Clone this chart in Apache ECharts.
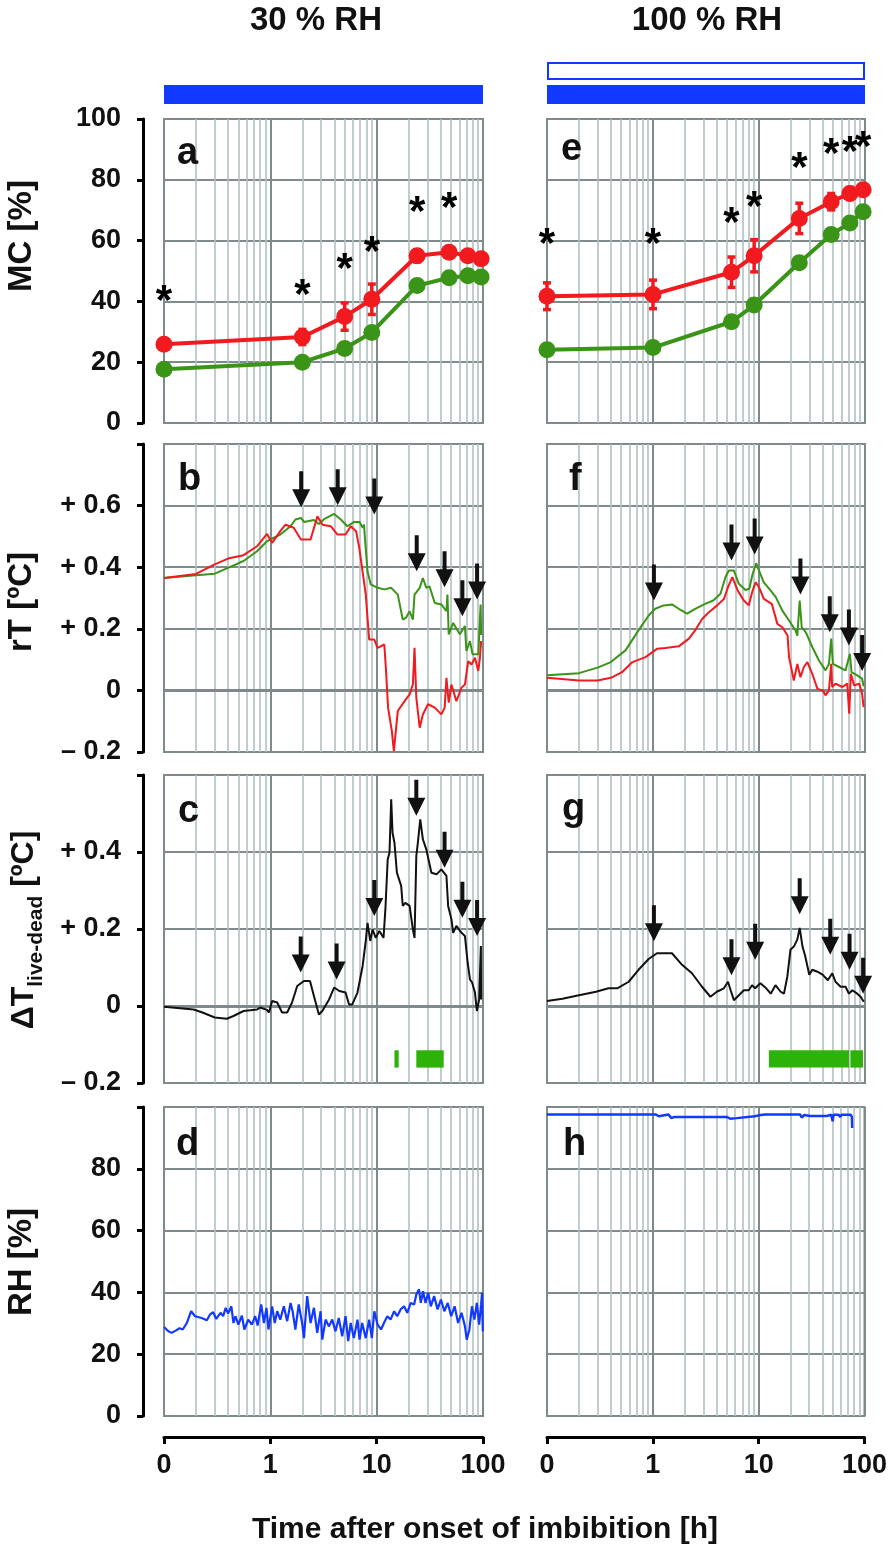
<!DOCTYPE html>
<html><head><meta charset="utf-8">
<script src="https://cdn.jsdelivr.net/npm/echarts@6/dist/echarts.min.js"></script>
<style>html,body{margin:0;padding:0;background:#fff}#c{width:890px;height:1553px}</style>
</head><body><div id="c"></div>
<script>
// ---------------- DATA ----------------
const T0 = 0.1; // time "0" is drawn at the left end of the log axis
const xTickLabels = ['0', '1', '10', '100'];
const minorGridTimes = [0.2,0.3,0.4,0.5,0.6,0.7,0.8,0.9,2,3,4,5,6,7,8,9,20,30,40,50,60,70,80,90];

// panel a (30 % RH) moisture content
const tA = [0, 2, 5, 9, 24, 48, 72, 96];
const mcRedA = [25.9, 28.3, 35, 40.7, 55, 56.2, 55, 54];
const mcRedErrA = [1.5, 2.5, 4.5, 5, 2, 1.5, 1.5, 1.5];
const mcGreenA = [17.7, 20, 24.5, 29.8, 45.2, 47.8, 48.4, 48];
const starA = [42.9, 45, 53.4, 59, 72.3, 73.6, null, null];

// panel e (100 % RH) moisture content
const tE = [0, 1, 5.5, 9, 24, 48, 72, 96];
const mcRedE = [41.7, 42.3, 49.6, 55, 67.3, 72.8, 75.5, 76.7];
const mcRedErrE = [4.4, 4.7, 5, 5.3, 5, 2.7, 2, 1.5];
const mcGreenE = [24.1, 24.8, 33.3, 38.8, 52.7, 62, 65.8, 69.5];
const starE = [61.7, 61.7, 68.5, 74, 86.6, 91.4, 92, 93.6];

// panel b (30 % RH) rT [time h, °C]
const rtGreenB = [[0.1,.365],[0.2,.374],[0.3,.379],[0.4,.398],[0.56,.42],[0.75,.452],[0.93,.484],[1,.49],[1.24,.506],[1.55,.533],[1.72,.555],[1.94,.56],[2.07,.547],[2.57,.553],[2.86,.54],[3.2,.556],[3.98,.573],[4.6,.555],[5.3,.533],[6.15,.547],[6.9,.547],[7.4,.528],[7.6,.538],[7.8,.484],[8.2,.387],[8.8,.344],[10.2,.333],[11.8,.328],[13.7,.333],[15.8,.311],[17.6,.23],[18.9,.236],[20.4,.257],[21.9,.23],[22.7,.311],[25.4,.333],[27.2,.365],[29.3,.333],[31.4,.338],[35.2,.284],[40.6,.279],[45.3,.257],[46.3,.311],[47.6,.182],[52.4,.219],[60.5,.182],[67.6,.209],[69.8,.128],[75.4,.16],[79.8,.117],[90.3,.117],[95,.279],[96,.18]];
const rtRedB = [[0.1,.365],[0.2,.378],[0.3,.409],[0.4,.428],[0.56,.439],[0.75,.468],[0.93,.508],[1.04,.479],[1.24,.517],[1.39,.538],[1.66,.528],[1.94,.49],[2.39,.49],[2.77,.565],[3.1,.538],[3.7,.533],[4.28,.506],[5.1,.506],[5.7,.533],[6.4,.517],[6.86,.463],[7.9,.311],[8.5,.165],[9.5,.165],[10.2,.138],[11.8,.149],[12.2,.074],[12.8,-.056],[13.9,-.132],[14.5,-.197],[15.8,-.067],[18.3,-.035],[20.4,-.013],[21.9,.019],[22.7,.138],[23.6,-.024],[25.4,-.121],[27.2,-.078],[30.4,-.045],[35.2,-.056],[40.6,-.078],[43.6,-.056],[45.3,.041],[47.6,-.04],[50.5,.019],[56.2,-.035],[62.8,.009],[67.6,.019],[72.6,.095],[78,.084],[84,.106],[90.3,.063],[93.6,.106],[96,.16]];
const arrowB = [[1.95,.595],[4.3,.601],[9.5,.571],[23.8,.387],[43.5,.335],[64,.241],[88,.295]];

// panel f (100 % RH) rT
const rtGreenF = [[0.1,.049],[0.2,.056],[0.3,.074],[0.4,.092],[0.55,.13],[0.73,.195],[0.91,.243],[1.05,.265],[1.26,.276],[1.51,.279],[1.75,.265],[2.1,.249],[2.5,.265],[3.1,.281],[3.7,.292],[4.33,.314],[4.83,.368],[5.2,.389],[5.8,.389],[6.45,.346],[7.46,.326],[8.1,.33],[8.7,.378],[9.4,.413],[10,.389],[11.1,.351],[12.9,.324],[14.4,.303],[16.6,.259],[19.2,.227],[22.1,.195],[23,.178],[24.2,.292],[25.3,.205],[27.6,.189],[31.8,.141],[36.8,.097],[42.4,.065],[45.7,.086],[48,.168],[49.8,.086],[56.9,.076],[65.5,.065],[72,.119],[74.6,.059],[84.5,.049],[94,.038],[97,.013]];
const rtRedF = [[0.1,.041],[0.2,.032],[0.3,.032],[0.4,.041],[0.51,.059],[0.64,.092],[0.85,.108],[1.09,.135],[1.31,.138],[1.75,.143],[2.18,.168],[2.5,.195],[2.91,.232],[3.37,.254],[4.03,.276],[4.67,.297],[5.1,.335],[5.6,.368],[6.3,.324],[7.2,.292],[8,.276],[8.7,.324],[9.3,.351],[10,.335],[11.1,.297],[13.2,.281],[14.9,.216],[16.6,.205],[18.6,.178],[19.2,.108],[21.3,.032],[23,.086],[24.6,.043],[26.5,.076],[28.6,.092],[31.8,.054],[35.6,.005],[40,0],[42.4,-.016],[45.7,0],[48,.086],[49,.011],[52.7,.022],[61,.011],[68,.022],[71,-.076],[73.5,.054],[79,.016],[88,.022],[94,-.011],[97,-.054]];
const arrowF = [[1.02,.292],[5.5,.422],[9.1,.441],[24.6,.311],[46.5,.189],[70.5,.146],[94,.063]];

// panel c (30 % RH) ΔT live-dead
const dtC = [[0.1,-.002],[0.19,-.009],[0.23,-.017],[0.3,-.03],[0.39,-.033],[0.45,-.026],[0.56,-.013],[0.75,-.009],[0.8,-.004],[0.93,-.01],[0.97,-.017],[1.04,.013],[1.16,.009],[1.29,-.017],[1.44,-.017],[1.6,.009],[1.79,.052],[2.07,.065],[2.36,.065],[2.57,.026],[2.86,-.022],[3.08,-.013],[3.57,.017],[3.98,.048],[4.45,.039],[5.1,.035],[5.5,.004],[5.9,.004],[6.6,.035],[7.38,.104],[7.9,.169],[8.2,.216],[8.7,.169],[9.15,.199],[9.8,.177],[10.6,.195],[11.6,.177],[12.1,.255],[12.7,.381],[13.2,.398],[13.7,.537],[14.1,.45],[14.7,.424],[15.5,.346],[17,.312],[17.6,.26],[18.6,.268],[20.4,.26],[21.9,.199],[22.7,.177],[23.6,.39],[24.4,.424],[25.7,.485],[27.2,.433],[29.3,.407],[32.7,.346],[36.6,.342],[40.6,.355],[45.3,.338],[47,.26],[50.5,.225],[52.4,.19],[56.2,.208],[62.8,.19],[67.6,.182],[71.7,.113],[75.4,.069],[79,.061],[84,.035],[87.6,-.013],[92,.017],[95.5,.156],[96,.017]];
const arrowC = [[1.93,.087],[4.2,.069],[9.5,.234],[23.6,.494],[43.5,.359],[64,.229],[88,.182]];
const barsC = [[14.7,16.1],[23.6,42.7]];

// panel g (100 % RH) ΔT live-dead
const dtG = [[0.1,.013],[0.14,.019],[0.2,.028],[0.29,.037],[0.38,.046],[0.46,.046],[0.59,.063],[0.73,.094],[0.91,.122],[1.09,.137],[1.51,.137],[1.88,.107],[2.33,.085],[2.9,.05],[3.48,.024],[4,.037],[4.66,.046],[5.1,.063],[5.4,.041],[5.8,.015],[6.46,.028],[7.2,.041],[8,.041],[8.6,.054],[9.2,.046],[10.3,.059],[11.7,.046],[12.9,.032],[14.3,.054],[16,.037],[17.2,.032],[18.5,.076],[19.8,.146],[21.4,.155],[23,.173],[24.2,.203],[25.7,.155],[27.3,.129],[29.8,.081],[31.8,.094],[35.6,.089],[40,.081],[44.6,.067],[49.1,.085],[52.7,.063],[58.9,.05],[65.5,.05],[70.6,.032],[75.9,.041],[84.5,.032],[90.8,.024],[97.5,.011]];
const arrowG = [[1.02,.168],[5.5,.08],[9.2,.12],[24.2,.238],[47,.133],[71.5,.094],[96,.032]];
const barsG = [[12.4,70.6],[72.8,95.8]];
const barsY = [-0.16, -0.115];

// panel d (30 % RH) relative humidity
const rhD = [[0.1,28.8],[0.11,27.4],[0.118,26.9],[0.13,27.7],[0.14,28.4],[0.15,28],[0.164,30.1],[0.18,33.9],[0.196,32.3],[0.226,31.7],[0.253,31],[0.27,32.8],[0.29,33.6],[0.31,31.4],[0.34,33.4],[0.36,32.3],[0.38,35],[0.4,33.2],[0.43,35.5],[0.45,30.1],[0.47,32.3],[0.5,29.6],[0.54,32.5],[0.57,28],[0.62,31.2],[0.67,29.6],[0.72,32.3],[0.76,29.3],[0.82,36.1],[0.87,30.1],[0.92,35],[0.96,28],[1.04,35.5],[1.1,30.1],[1.16,33.9],[1.24,31.2],[1.34,35.5],[1.44,30.7],[1.55,36.6],[1.62,33.9],[1.72,28],[1.85,36.1],[1.99,30.1],[2.07,25.2],[2.22,38.8],[2.39,30.1],[2.57,35],[2.76,26.9],[2.97,33.9],[3.08,24.7],[3.31,31.2],[3.55,29],[3.82,31.2],[4.1,27.4],[4.4,31.7],[4.74,25.8],[5.1,32.3],[5.4,24.2],[5.7,30.1],[6.1,25.2],[6.6,31.2],[6.9,24.7],[7.3,30.1],[7.9,25.2],[8.5,31.2],[9,25.2],[9.5,33.9],[10.2,29.6],[11,28],[11.7,30.1],[12.6,32.3],[13.5,31.2],[14.6,33.9],[15.6,32.3],[16.8,34.5],[18.1,35.5],[19.4,33.4],[20.9,36.6],[22.5,36.1],[23.6,39.3],[25,41],[26,36.6],[27.3,40.4],[28.8,36.6],[30.5,39.9],[32.3,35.5],[34.7,38.8],[37.4,34.5],[40.2,37.7],[43.3,33.9],[46.6,36.6],[50.2,32.3],[54.1,35.5],[58.3,30.1],[62.8,33.4],[67.7,29],[70.3,24.7],[74.5,28],[78.7,35.5],[83,31.2],[87.5,36.6],[92,29.6],[96,36.1],[98,39.9],[99.5,27.4]];

// panel h (100 % RH) relative humidity
const rhH = [[0.1,97.6],[1.06,97.6],[1.14,97],[1.4,97.6],[1.5,96.4],[1.6,96.8],[5,96.8],[5.4,96.2],[6.2,96.4],[6.4,97],[9.2,97],[10,97.3],[11.5,97.6],[24.6,97.6],[25.5,96.6],[27,97.4],[30.7,97.1],[44,97.1],[45.7,97.5],[48.5,97.5],[50,95.4],[51,97.5],[57,97.5],[59,96.8],[61,97.5],[74,97.5],[76,96.8],[76.5,93.2]];

// ---------------- STYLE ----------------
const FF = "'Liberation Sans', Arial, Helvetica, sans-serif";
const GRID_DARK = '#7f8b8b', GRID_LIGHT = '#b2c0c0';
const RED = '#f11a1f', GREEN = '#3a9418', BLUE = '#1239ff', BAR_GREEN = '#2db20a', INK = '#111';
const COLS = [164, 547], COLW = [319, 318];
const ROWS = [[119,304],[444,308],[775,308],[1107,309]];
const Y = [
  {min:0, max:100, interval:20, top:null, signed:false},
  {min:-0.2, max:0.8, interval:0.2, top:0.8, signed:true},
  {min:-0.2, max:0.6, interval:0.2, top:0.6, signed:true},
  {min:0, max:100, interval:20, top:100, signed:false}
];
const t0 = t => (t === 0 ? T0 : t);

const grids = [], xAxes = [], yAxes = [], series = [];
for (let r = 0; r < 4; r++) for (let c = 0; c < 2; c++) {
  const i = r * 2 + c, yc = Y[r];
  grids.push({left: COLS[c], top: ROWS[r][0], width: COLW[c], height: ROWS[r][1], show: true,
    borderColor: GRID_DARK, borderWidth: 2, backgroundColor: 'transparent'});
  const bottom = r === 3;
  xAxes.push({type: 'log', logBase: 10, gridIndex: i, min: 0.1, max: 100, splitNumber: 3,
    offset: bottom ? 21 : 0,
    splitLine: {show: true, lineStyle: {color: GRID_DARK, width: 2}},
    axisLine: {show: bottom, onZero: false, lineStyle: {color: '#000', width: 3}},
    axisTick: {show: bottom, length: 7, lineStyle: {color: '#000', width: 3}},
    axisLabel: {show: bottom, margin: 15, fontSize: 27, fontWeight: 'bold', color: INK, fontFamily: FF,
      formatter: v => { const k = Math.round(Math.log10(v)) + 1; return xTickLabels[k] || ''; }}
  });
  yAxes.push({type: 'value', gridIndex: i, min: yc.min, max: yc.max, interval: yc.interval,
    offset: c === 0 ? 21 : 0,
    splitLine: {show: true, lineStyle: {color: GRID_DARK, width: 2}},
    axisLine: {show: c === 0, onZero: false, lineStyle: {color: '#000', width: 3}},
    axisTick: {show: c === 0, length: 6, lineStyle: {color: '#000', width: 3}},
    axisLabel: {show: c === 0, margin: 22, fontSize: 27, fontWeight: 'bold', color: INK, fontFamily: FF,
      formatter: v => {
        if (yc.top !== null && Math.abs(v - yc.top) < 1e-6) return '';
        if (!yc.signed) return String(Math.round(v));
        if (Math.abs(v) < 1e-9) return '0';
        return (v > 0 ? '+ ' : '\u2013 ') + Math.abs(v).toFixed(1);
      }}
  });
  // minor log grid lines (and zero line)
  const ml = minorGridTimes.map(v => ({xAxis: v}));
  if (yc.signed) ml.push({yAxis: 0, lineStyle: {color: GRID_DARK, width: 3}});
  series.push({type: 'line', xAxisIndex: i, yAxisIndex: i, data: [], silent: true, z: 0,
    markLine: {silent: true, symbol: ['none', 'none'], label: {show: false}, animation: false, z: 0,
      lineStyle: {color: GRID_LIGHT, width: 1.6, type: 'solid'}, data: ml}});
}

function lineS(i, data, color, w, z) {
  return {type: 'line', xAxisIndex: i, yAxisIndex: i, data, showSymbol: false, symbol: 'none',
    lineStyle: {color, width: w}, z: z || 3, silent: true};
}
function mcS(i, t, v, color) {
  return {type: 'line', xAxisIndex: i, yAxisIndex: i, data: t.map((x, k) => [t0(x), v[k]]),
    symbol: 'circle', symbolSize: 17, itemStyle: {color, opacity: 1}, lineStyle: {color, width: 4}, z: 4, silent: true};
}
function errS(i, t, v, e, color) {
  return {type: 'custom', xAxisIndex: i, yAxisIndex: i, z: 4, silent: true,
    data: t.map((x, k) => [t0(x), v[k], e[k]]),
    renderItem: (p, api) => {
      const x = api.value(0), y = api.value(1), e = api.value(2);
      const a = api.coord([x, y + e]), b = api.coord([x, y - e]);
      const st = {stroke: color, lineWidth: 3.5};
      return {type: 'group', children: [
        {type: 'line', shape: {x1: a[0], y1: a[1], x2: b[0], y2: b[1]}, style: st},
        {type: 'line', shape: {x1: a[0]-4, y1: a[1], x2: a[0]+4, y2: a[1]}, style: st},
        {type: 'line', shape: {x1: b[0]-4, y1: b[1], x2: b[0]+4, y2: b[1]}, style: st}
      ]};
    }};
}
function starS(i, t, v) {
  return {type: 'scatter', xAxisIndex: i, yAxisIndex: i, z: 8, silent: true, symbolSize: 2,
    itemStyle: {color: 'rgba(0,0,0,0)', opacity: 1},
    data: t.map((x, k) => [t0(x), v[k]]).filter(d => d[1] !== null),
    label: {show: true, position: 'inside', formatter: '*', fontSize: 42, fontWeight: 'bold',
      color: '#000', opacity: 1, fontFamily: FF, offset: [0, 10]}};
}
const ARROW = 'path://M7,0L11,0L11,18L18,18L9,36L0,18L7,18Z';
function arrowS(i, data) {
  return {type: 'scatter', xAxisIndex: i, yAxisIndex: i, z: 8, silent: true, data,
    symbol: ARROW, symbolSize: [18, 36], symbolOffset: [0, -18], itemStyle: {color: INK, opacity: 1}};
}
function barS(i, bars) {
  return {type: 'custom', xAxisIndex: i, yAxisIndex: i, z: 6, silent: true,
    data: bars.map(b => [b[0], b[1], barsY[0], barsY[1]]),
    renderItem: (p, api) => {
      const a = api.coord([api.value(0), api.value(3)]), b = api.coord([api.value(1), api.value(2)]);
      return {type: 'rect', z2: 50, shape: {x: a[0], y: a[1], width: b[0] - a[0], height: b[1] - a[1]},
        style: {fill: BAR_GREEN}};
    }};
}

// a / e
series.push(mcS(0, tA, mcGreenA, GREEN), errS(0, tA, mcRedA, mcRedErrA, RED), mcS(0, tA, mcRedA, RED), starS(0, tA, starA));
series.push(mcS(1, tE, mcGreenE, GREEN), errS(1, tE, mcRedE, mcRedErrE, RED), mcS(1, tE, mcRedE, RED), starS(1, tE, starE));
// b / f
series.push(lineS(2, rtGreenB, GREEN, 2), lineS(2, rtRedB, RED, 2), arrowS(2, arrowB));
series.push(lineS(3, rtRedF, RED, 2), lineS(3, rtGreenF, GREEN, 2), arrowS(3, arrowF));
// c / g
series.push(lineS(4, dtC, INK, 2), arrowS(4, arrowC), barS(4, barsC));
series.push(lineS(5, dtG, INK, 2), arrowS(5, arrowG), barS(5, barsG));
// d / h
series.push(lineS(6, rhD, BLUE, 2.2), lineS(7, rhH, BLUE, 2.5));

const txt = (x, y, text, size, extra) => Object.assign({type: 'text', x, y, z: 10,
  style: {text, fontSize: size, fontWeight: 'bold', fontFamily: FF, fill: INK, align: 'center', verticalAlign: 'middle'}}, extra || {});
const letters = [['a',177,154],['e',561,150],['b',178,480],['f',569,480],['c',178,812],['g',562,810],['d',176,1145],['h',563,1145]];
const graphic = [
  txt(316, 21, '30 % RH', 33),
  txt(707, 21, '100 % RH', 33),
  {type: 'rect', shape: {x: 164, y: 85, width: 319, height: 19}, style: {fill: BLUE}},
  {type: 'rect', shape: {x: 548, y: 63, width: 316, height: 16}, style: {fill: '#fff', stroke: BLUE, lineWidth: 2}},
  {type: 'rect', shape: {x: 547, y: 85, width: 318, height: 19}, style: {fill: BLUE}},
  txt(22, 236, 'MC [%]', 33, {rotation: Math.PI / 2}),
  txt(22, 602, 'rT [ºC]', 33, {rotation: Math.PI / 2}),
  {type: 'text', x: 24, y: 930, rotation: Math.PI / 2, z: 10,
    style: {text: '{m|ΔT}{s|live-dead}{m| [ºC]}', align: 'center', verticalAlign: 'middle',
      rich: {m: {fontSize: 32, fontWeight: 'bold', fontFamily: FF, fill: INK, lineHeight: 46, verticalAlign: 'middle'},
             s: {fontSize: 21, fontWeight: 'bold', fontFamily: FF, fill: INK, lineHeight: 27, verticalAlign: 'bottom'}}}},
  txt(22, 1262, 'RH [%]', 33, {rotation: Math.PI / 2}),
  txt(485, 1530, 'Time after onset of imbibition [h]', 30)
].concat(letters.map(l => { const g = txt(l[1], l[2], l[0], 38); g.style.align = 'left'; return g; }));

const chart = echarts.init(document.getElementById('c'), null, {renderer: 'canvas'});
chart.setOption({animation: false, backgroundColor: '#fff', grid: grids, xAxis: xAxes, yAxis: yAxes, series, graphic});
</script></body></html>
